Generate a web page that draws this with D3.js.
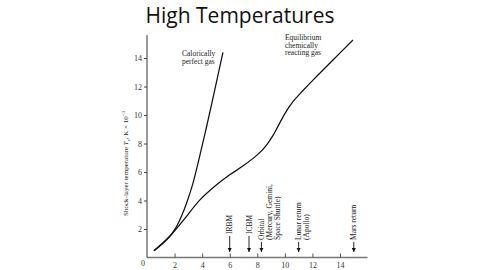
<!DOCTYPE html>
<html>
<head>
<meta charset="utf-8">
<script src="https://cdn.jsdelivr.net/npm/d3@7"></script>
<style>
  body { margin: 0; background: #fff; }
  svg { display: block; }
  .tick text { font-family: "Liberation Serif", serif; font-size: 8px; fill: #333; }
  .note { font-family: "Liberation Serif", serif; font-size: 7.5px; fill: #222; }
</style>
</head>
<body>
<svg class="chart" width="480" height="270"></svg>
<script>
// curves: velocity (km/s) vs shock-layer temperature (K x 10^-3)
const perfectGas = [
    [0.5, 0.48], [1.1, 0.95], [1.67, 1.51], [2.1, 2.1], [2.5, 2.9],
    [2.9, 3.9], [3.3, 5.1], [3.72, 6.7], [4.28, 9.0], [4.9, 11.7], [5.51, 14.4]
];
const equilibriumGas = [
    [0.5, 0.48], [1.1, 0.98], [1.67, 1.51], [2.63, 2.6], [3.84, 4.04],
    [5.05, 5.1], [6.0, 5.8], [7.0, 6.45], [8.0, 7.2], [8.6, 7.8],
    [9.1, 8.5], [9.5, 9.2], [10.0, 10.1], [10.6, 10.95], [11.3, 11.7],
    [12.04, 12.45], [13.49, 13.86], [14.94, 15.26]
];
const xTicks = [2, 4, 6, 8, 10, 12, 14];
const yTicks = [2, 4, 6, 8, 10, 12, 14];
// flight regimes marked with arrows on the velocity axis
const missions = [
    { v: 6.0, lines: ['IRBM'] },
    { v: 7.4, lines: ['ICBM'] },
    { v: 8.3, lines: ['Orbital', '(Mercury, Gemini,', 'Space Shuttle)'] },
    { v: 11.0, lines: ['Lunar return', '(Apollo)'] },
    { v: 15.0, lines: ['Mars return'] }
];

var svg = d3.select('.chart');

svg.append('text')
    .attr('x', 240)
    .attr('y', 23)
    .attr('text-anchor', 'middle')
    .style('font-family', 'Open Sans, sans-serif')
    .style('font-size', '21px')
    .style('fill', '#111')
    .text('High Temperatures');

var x = d3.scaleLinear().domain([0, 14]).range([147, 340]);
var y = d3.scaleLinear().domain([0, 14]).range([257.5, 58]);

var g = svg.append('g');

// x axis, ticks point up into the plot
var xAxis = g.append('g')
    .attr('transform', 'translate(0,' + y(0) + ')')
    .call(d3.axisBottom(x).tickValues(xTicks).tickSizeInner(-4).tickSizeOuter(0).tickPadding(5));
xAxis.select('.domain').attr('d', 'M' + x(0) + ',0H' + x(16)).attr('stroke', '#777').attr('stroke-width', 1.6);
xAxis.selectAll('.tick line').attr('stroke', '#555');

var yAxis = g.append('g')
    .attr('transform', 'translate(' + x(0) + ',0)')
    .call(d3.axisLeft(y).tickValues(yTicks).tickSize(3).tickPadding(2));
yAxis.select('.domain').attr('d', 'M0,' + y(15.6) + 'V' + y(0)).attr('stroke', '#333');
yAxis.selectAll('.tick line').attr('stroke', '#444');

g.append('text')
    .attr('x', x(0) - 4)
    .attr('y', y(0) + 8)
    .attr('text-anchor', 'middle')
    .style('font-family', 'Liberation Serif, serif')
    .style('font-size', '8px')
    .style('fill', '#333')
    .text('0');

// axis title
var yt = g.append('text')
    .attr('class', 'note')
    .style('font-size', '7px')
    .attr('transform', 'translate(128,' + y(6.6) + ') rotate(-90)')
    .attr('text-anchor', 'middle');
yt.append('tspan').text('Shock-layer temperature ');
yt.append('tspan').style('font-style', 'italic').text('T');
yt.append('tspan').attr('dy', 2).style('font-size', '5px').text('s');
yt.append('tspan').attr('dy', -2).text(', K × 10');
yt.append('tspan').attr('dy', -3).style('font-size', '5px').text('−3');

var line = d3.line()
    .x(d => x(d[0]))
    .y(d => y(d[1]))
    .curve(d3.curveCatmullRom);

g.append('path')
    .datum(perfectGas)
    .attr('d', line)
    .attr('fill', 'none')
    .attr('stroke', '#111')
    .attr('stroke-width', 1.25);

g.append('path')
    .datum(equilibriumGas)
    .attr('d', line)
    .attr('fill', 'none')
    .attr('stroke', '#111')
    .attr('stroke-width', 1.25);

// curve labels
function note(lines, px, py) {
    var t = g.append('text').attr('class', 'note');
    lines.forEach((s, i) => {
        t.append('tspan').attr('x', px).attr('y', py + i * 7.6).text(s);
    });
}
note(['Calorically', 'perfect gas'], 182, 56);
note(['Equilibrium', 'chemically', 'reacting gas'], 285, 40);

// mission arrows
svg.append('defs').append('marker')
    .attr('id', 'head')
    .attr('viewBox', '0 0 6 6')
    .attr('refX', 6).attr('refY', 3)
    .attr('markerWidth', 5).attr('markerHeight', 5)
    .attr('orient', 'auto')
    .append('path')
    .attr('d', 'M0,0L6,3L0,6Z')
    .attr('fill', '#111');

var m = g.selectAll('.mission')
    .data(missions)
    .enter().append('g')
    .attr('class', 'mission');

m.append('line')
    .attr('x1', d => x(d.v))
    .attr('x2', d => x(d.v))
    .attr('y1', d => d.lines.length > 2 || d.v > 10 ? 242 : 236)
    .attr('y2', 252)
    .attr('stroke', '#111')
    .attr('stroke-width', 0.9)
    .attr('marker-end', 'url(#head)');

m.each(function(d) {
    var base = d.lines.length > 2 || d.v > 10 ? 240 : 234;
    d.lines.forEach((s, i) => {
        d3.select(this).append('text')
            .attr('class', 'note')
            .attr('transform', 'translate(' + (x(d.v) + 2.5 + i * 8) + ',' + base + ') rotate(-90)')
            .text(s);
    });
});
</script>
</body>
</html>
